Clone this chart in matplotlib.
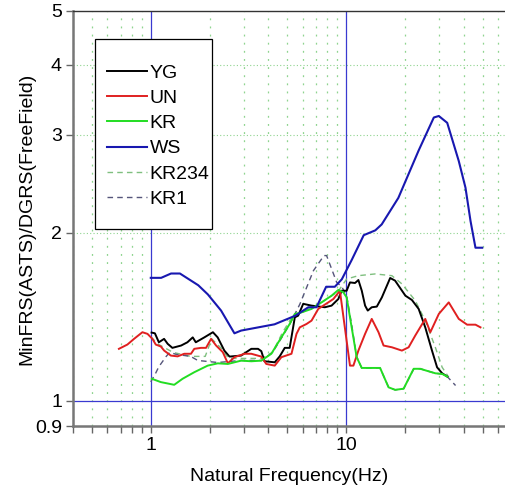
"""Ratio of minimum floor response spectra to free-field design spectra,
plotted against natural frequency on log-log axes."""

import matplotlib
matplotlib.use("Agg")
import matplotlib.pyplot as plt
from matplotlib.patches import Rectangle
from matplotlib.ticker import FixedLocator, NullFormatter, NullLocator

plt.rcParams["font.family"] = ["Liberation Sans", "DejaVu Sans"]

# ---- data ----------------------------------------------------------------
yg_freq = [1.01, 1.05, 1.10, 1.17, 1.22, 1.29, 1.43, 1.54, 1.64, 1.70, 1.88,
           2.08, 2.20, 2.38, 2.53, 2.90, 3.27, 3.54, 3.68, 3.82, 4.31, 4.57,
           4.85, 5.14, 5.46, 5.68, 6.03, 6.65, 7.78, 8.42, 9.12, 9.48, 10.06,
           10.46, 11.10, 11.55, 12.02, 12.50, 12.90, 13.52, 14.35, 15.23,
           16.8, 17.8, 20.1, 21.7, 23.5, 25.4, 27.5, 29.2, 31.0, 32.9]
yg_ratio = [1.324, 1.320, 1.272, 1.290, 1.264, 1.243, 1.255, 1.272, 1.298,
            1.272, 1.298, 1.326, 1.298, 1.229, 1.199, 1.204, 1.238, 1.238,
            1.226, 1.176, 1.171, 1.200, 1.243, 1.243, 1.410, 1.420, 1.491,
            1.480, 1.470, 1.480, 1.521, 1.574, 1.574, 1.629, 1.625, 1.645,
            1.574, 1.480, 1.450, 1.470, 1.474, 1.531, 1.659, 1.641, 1.542,
            1.515, 1.460, 1.353, 1.229, 1.147, 1.119, 1.104]

un_freq = [0.687, 0.759, 0.821, 0.906, 0.962, 1.02, 1.061, 1.126, 1.171,
           1.267, 1.372, 1.483, 1.606, 1.67, 1.807, 1.918, 2.035, 2.159,
           2.337, 2.48, 2.68, 3.02, 3.27, 3.68, 3.90, 4.31, 4.66, 5.25, 5.57,
           5.79, 6.27, 6.65, 7.20, 8.10, 8.60, 9.29, 10.46, 10.89, 11.55,
           12.5, 13.52, 14.64, 15.54, 17.14, 19.29, 20.88, 22.58, 25.4, 26.97,
           29.8, 33.5, 37.7, 41.6, 45.9, 48.7]
un_ratio = [1.238, 1.260, 1.290, 1.326, 1.317, 1.290, 1.260, 1.250, 1.229,
            1.204, 1.200, 1.213, 1.213, 1.238, 1.243, 1.243, 1.290, 1.255,
            1.221, 1.166, 1.196, 1.213, 1.213, 1.199, 1.163, 1.155, 1.196,
            1.213, 1.317, 1.353, 1.372, 1.391, 1.460, 1.500, 1.521, 1.574,
            1.155, 1.155, 1.229, 1.317, 1.401, 1.326, 1.255, 1.246, 1.229,
            1.246, 1.308, 1.401, 1.326, 1.430, 1.500, 1.401, 1.368, 1.368,
            1.353]

kr_freq = [1.012, 1.126, 1.318, 1.455, 1.67, 1.956, 2.203, 2.48, 2.90, 3.27,
           3.68, 4.14, 4.66, 5.14, 5.46, 5.90, 6.65, 7.48, 8.42, 9.12, 9.67,
           10.06, 10.67, 11.32, 12.02, 14.92, 16.48, 17.82, 19.68, 20.88,
           22.15, 23.95, 26.46, 28.6, 31.0, 32.9]
kr_ratio = [1.094, 1.079, 1.067, 1.094, 1.124, 1.155, 1.166, 1.163, 1.179,
            1.176, 1.179, 1.213, 1.298, 1.372, 1.430, 1.439, 1.460, 1.500,
            1.542, 1.579, 1.564, 1.531, 1.353, 1.196, 1.144, 1.144, 1.056,
            1.045, 1.050, 1.094, 1.140, 1.140, 1.128, 1.119, 1.116, 1.104]

ws_freq = [1.0, 1.13, 1.27, 1.41, 1.75, 1.96, 2.29, 2.68, 2.9, 4.3, 5.5, 6.4,
           7.05, 7.9, 8.75, 9.5, 10.7, 12.3, 14.1, 15.2, 18.5, 23.5, 28.1,
           29.8, 32.9, 37.7, 40.8, 43.3, 45.9, 49.7]
ws_ratio = [1.66, 1.66, 1.69, 1.69, 1.61, 1.55, 1.45, 1.32, 1.335, 1.37, 1.42,
            1.47, 1.47, 1.60, 1.60, 1.65, 1.79, 1.98, 2.02, 2.07, 2.31, 2.81,
            3.22, 3.24, 3.15, 2.69, 2.41, 2.10, 1.88, 1.88]

kr234_freq = [1.0, 1.1, 1.3, 1.6, 1.9, 2.05, 2.3, 2.5, 3.0, 3.7, 4.2, 4.7,
              5.2, 5.9, 6.7, 7.5, 8.4, 9.1, 10.06, 11.55, 14.06, 17.14, 19.29,
              22.58, 25.4, 28.6, 31.0, 33.5]
kr234_ratio = [1.30, 1.26, 1.22, 1.20, 1.20, 1.29, 1.24, 1.19, 1.19, 1.19,
               1.22, 1.32, 1.40, 1.44, 1.47, 1.50, 1.54, 1.57, 1.652, 1.675,
               1.687, 1.675, 1.619, 1.511, 1.391, 1.246, 1.147, 1.101]

kr1_freq = [1.0, 1.06, 1.1, 1.2, 1.25, 1.35, 1.6, 1.74, 2.2, 2.9, 3.7, 4.2,
            4.7, 5.2, 5.8, 6.8, 7.7, 7.94, 8.6, 8.94, 9.5, 10.06, 10.7, 11.3,
            12.0, 14.9, 16.5, 17.8, 19.7, 20.9, 22.2, 24.0, 26.5, 28.6, 31.0,
            32.9, 36.3]
kr1_ratio = [1.08, 1.12, 1.15, 1.20, 1.22, 1.21, 1.20, 1.18, 1.17, 1.18,
             1.18, 1.22, 1.30, 1.38, 1.49, 1.71, 1.82, 1.82, 1.69, 1.63, 1.60,
             1.54, 1.36, 1.20, 1.144, 1.144, 1.056, 1.045, 1.050, 1.094, 1.14,
             1.14, 1.128, 1.119, 1.116, 1.104, 1.064]

x_minor = [0.4, 0.5, 0.6, 0.7, 0.8, 0.9, 2, 3, 4, 5, 6, 7, 8, 9,
           20, 30, 40, 50, 60]
y_ticks = [0.9, 1, 2, 3, 4, 5]
y_tick_labels = ["0.9", "1", "2", "3", "4", "5"]

GRID = "#8fd48f"
REF_BLUE = "#3a3ad0"


def run() -> None:
    fig = plt.figure(figsize=(5.06, 4.93), dpi=100)
    ax = fig.add_axes([0.1443, 0.1359, 0.8537, 0.8418])

    ax.set_xscale("log")
    ax.set_yscale("log")
    ax.set_xlim(0.4, 65)
    ax.set_ylim(0.9, 5)

    # dotted green grid
    for xv in x_minor:
        ax.axvline(xv, color=GRID, lw=0.9, ls=(0, (1.5, 5)), zorder=0)
    for yv in [2, 3, 4]:
        ax.axhline(yv, color=GRID, lw=0.8, ls=(0, (1, 2)), zorder=0)

    # reference lines
    ax.axvline(1, color=REF_BLUE, lw=0.9, zorder=1)
    ax.axvline(10, color=REF_BLUE, lw=0.9, zorder=1)
    ax.axhline(1, color=REF_BLUE, lw=0.9, zorder=1)

    ax.plot(yg_freq, yg_ratio, color="black", lw=1.4, label="YG", zorder=4)
    ax.plot(un_freq, un_ratio, color="#e02020", lw=1.4, label="UN", zorder=4)
    ax.plot(kr_freq, kr_ratio, color="#22dd22", lw=1.4, label="KR", zorder=4)
    ax.plot(ws_freq, ws_ratio, color="#1818b0", lw=1.5, label="WS", zorder=4)
    ax.plot(kr234_freq, kr234_ratio, color="#7fbf7f", lw=1.0,
            ls=(0, (4, 3)), label="KR234", zorder=3)
    ax.plot(kr1_freq, kr1_ratio, color="#55557a", lw=1.0,
            ls=(0, (4, 3)), label="KR1", zorder=3)

    ax.xaxis.set_major_locator(FixedLocator([1, 10]))
    ax.set_xticklabels(["1", "10"])
    ax.xaxis.set_minor_locator(FixedLocator(x_minor))
    ax.xaxis.set_minor_formatter(NullFormatter())
    ax.yaxis.set_major_locator(FixedLocator(y_ticks))
    ax.set_yticklabels(y_tick_labels)
    ax.yaxis.set_minor_locator(NullLocator())

    ax.tick_params(axis="both", which="both", direction="out", length=5,
                   width=1.0, color="#666666", labelsize=14, pad=3)

    for side in ["left", "bottom"]:
        ax.spines[side].set_color("#777777")
        ax.spines[side].set_linewidth(1.8)
    ax.spines["top"].set_color("#333333")
    ax.spines["top"].set_linewidth(1.0)
    ax.spines["right"].set_visible(False)

    ax.set_xlabel("Natural Frequency(Hz)", fontsize=14, labelpad=10)
    ax.set_ylabel("MinFRS(ASTS)/DGRS(FreeField)", fontsize=14, labelpad=0)

    # legend box is taller than its entries, so draw the frame separately
    ax.add_patch(Rectangle((0.051, 0.4747), 0.2708, 0.4578,
                           transform=ax.transAxes, facecolor="white",
                           edgecolor="black", lw=0.9, zorder=5))
    leg = ax.legend(loc="upper left", bbox_to_anchor=(0.0787, 0.872),
                    borderaxespad=0, borderpad=0, fontsize=14, frameon=False,
                    handlelength=2.05, handletextpad=0.15, labelspacing=0.39)
    leg.set_zorder(6)

    fig.savefig("out.png", dpi=100, facecolor="white")


if __name__ == "__main__":
    run()
